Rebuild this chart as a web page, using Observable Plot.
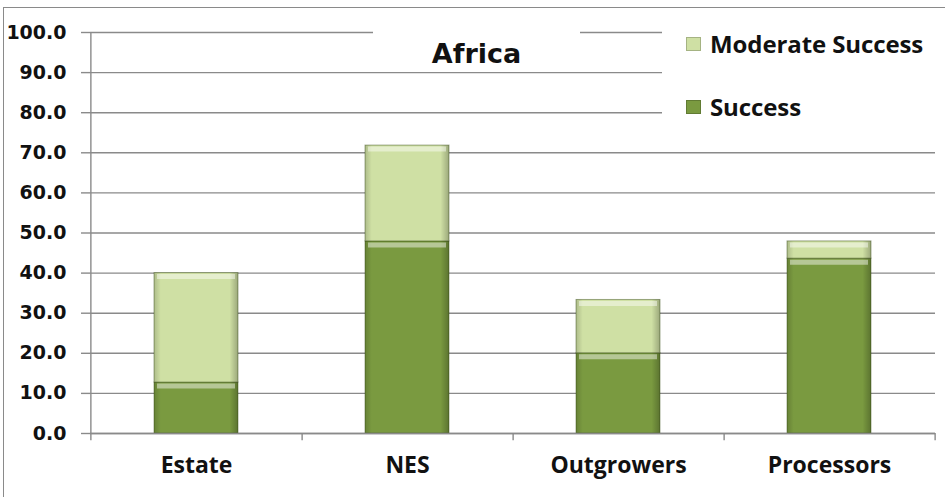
<!DOCTYPE html>
<html><head><meta charset="utf-8">
<script src="https://cdn.jsdelivr.net/npm/d3@7"></script>
<script src="https://cdn.jsdelivr.net/npm/@observablehq/plot@0.6"></script>
<style>
body{margin:0;background:#fff;}
#wrap{position:relative;width:945px;height:497px;overflow:hidden;background:#fff;}
#border{position:absolute;left:3px;top:7px;width:960px;height:520px;border:1.5px solid #8a8a8a;box-sizing:border-box;}
#chart{position:absolute;left:0;top:0;}
#title{position:absolute;left:373px;top:25px;width:207px;height:44px;background:#fff;}
#title span{position:absolute;left:0;right:0;top:16px;text-align:center;font:bold 27px "DejaVu Sans";line-height:26px;color:#111;}
#legend{position:absolute;left:662px;top:25px;width:283px;height:118px;background:#fff;}
.item{position:absolute;left:24px;height:24px;font:bold 24px "Open Sans";line-height:24px;color:#111;white-space:nowrap;letter-spacing:-0.1px;}
.sw{display:inline-block;width:15px;height:14px;margin-right:9px;vertical-align:2px;box-sizing:border-box;}
</style></head>
<body>
<div id="wrap">
<div id="border"></div>
<div id="chart"></div>
<div id="title"><span>Africa</span></div>
<div id="legend"></div>
</div>
<script>
const categories = ["Estate", "NES", "Outgrowers", "Processors"];
const success = [12.7, 47.9, 20.0, 43.6];
const moderate = [27.3, 23.9, 13.3, 4.3];
const seriesNames = ["Success", "Moderate Success"];
const seriesColors = ["#7a9a40", "#cfe0a4"];
const legendOrder = ["Moderate Success", "Success"];
const yTicks = [0, 10, 20, 30, 40, 50, 60, 70, 80, 90, 100];

const data = categories.flatMap((c, i) => [
  {cat: c, series: seriesNames[0], value: success[i]},
  {cat: c, series: seriesNames[1], value: moderate[i]}
]);

const W = 945, H = 497, mL = 90, mR = 10, mT = 32, mB = 64;
const step = (W - mL - mR) / categories.length;

const plot = Plot.plot({
  width: W, height: H,
  marginLeft: mL, marginRight: mR, marginTop: mT, marginBottom: mB,
  style: {background: "transparent", overflow: "visible"},
  x: {domain: categories, paddingInner: 0.6, paddingOuter: 0.3, label: null},
  y: {domain: [0, 100], label: null},
  color: {domain: seriesNames, range: seriesColors},
  marks: [
    Plot.gridY(yTicks, {stroke: "#8a8a8a", strokeOpacity: 1, strokeWidth: 1.4}),
    Plot.axisY(yTicks, {tickFormat: d3.format(".1f"), tickSize: 9, tickPadding: 15, stroke: "#8a8a8a", strokeWidth: 1.4,
      fontSize: 19, fontWeight: "bold", fontFamily: "DejaVu Sans", fill: "#111", label: null}),
    Plot.axisX({tickSize: 0, tickPadding: 23, fontSize: 23, fontWeight: "bold", fontFamily: "Open Sans", fill: "#111", label: null}),
    Plot.barY(data, {x: "cat", y: "value", fill: "series", stroke: "rgba(50,70,15,0.45)", strokeWidth: 1}),
    Plot.barY(data, {x: "cat", y: "value", fill: "url(#shade)"}),
    Plot.tickY(data, Plot.stackY2({x: "cat", y: "value", stroke: "rgba(255,255,255,0.45)", strokeWidth: 5, dy: 3.5, inset: 3})),
    Plot.ruleY([0], {stroke: "#8a8a8a", strokeWidth: 1.4}),
    Plot.ruleX([categories[0]], {dx: -step / 2, y1: -1.8, y2: 100, stroke: "#8a8a8a", strokeWidth: 1.4}),
    Plot.ruleX(categories, {dx: step / 2, y1: 0, y2: -1.8, stroke: "#8a8a8a", strokeWidth: 1.4})
  ]
});

// horizontal shading gradient for a 3D bar look
const ns = "http://www.w3.org/2000/svg";
const defs = document.createElementNS(ns, "defs");
defs.innerHTML = `<linearGradient id="shade" x1="0" x2="1" y1="0" y2="0">
  <stop offset="0" stop-color="#000" stop-opacity="0.16"/>
  <stop offset="0.08" stop-color="#000" stop-opacity="0"/>
  <stop offset="0.9" stop-color="#000" stop-opacity="0"/>
  <stop offset="1" stop-color="#000" stop-opacity="0.25"/>
</linearGradient>`;
plot.insertBefore(defs, plot.firstChild);
document.getElementById("chart").appendChild(plot);

// legend
const legend = document.getElementById("legend");
const tops = [7, 70];
legendOrder.forEach((name, i) => {
  const col = seriesColors[seriesNames.indexOf(name)];
  const div = document.createElement("div");
  div.className = "item";
  div.style.top = tops[i] + "px";
  div.innerHTML = `<span class="sw" style="background:${col};border:1px solid rgba(0,0,0,0.2)"></span>${name}`;
  legend.appendChild(div);
});
</script>
</body></html>
